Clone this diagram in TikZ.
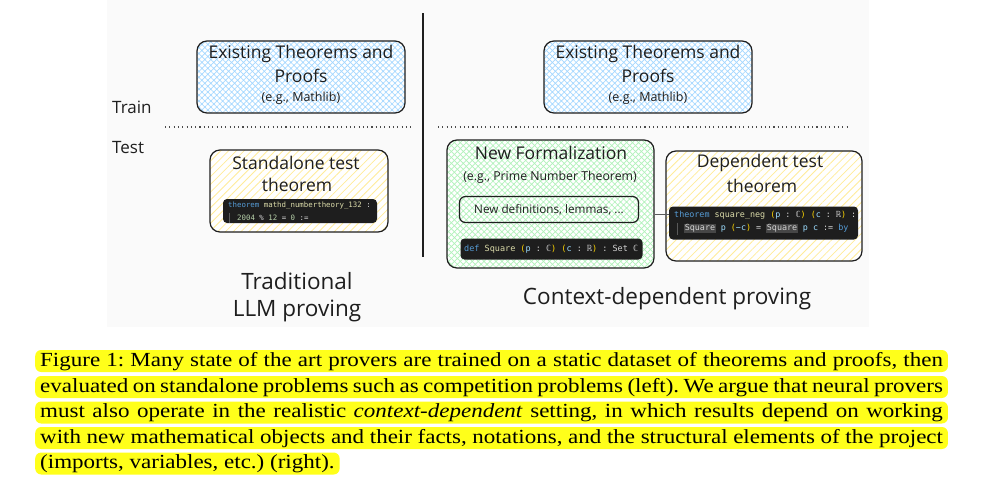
\documentclass[tikz,border=0pt]{standalone}
\usepackage{fontspec}
\setmainfont{Liberation Serif}
\newfontfamily\handfont{Open Sans}
\newfontfamily\codefont{DejaVu Sans Mono}
\usetikzlibrary{patterns.meta}
\definecolor{bggray}{HTML}{FAFAFA}
\definecolor{ink}{HTML}{1E1E1E}
\definecolor{hblue}{HTML}{A5D8FF}
\definecolor{hgreen}{HTML}{B2F2BB}
\definecolor{hyellow}{HTML}{FFEC99}
\definecolor{codebg}{HTML}{1E1E1E}
\definecolor{ckw}{HTML}{569CD6}
\definecolor{cfn}{HTML}{DCDCAA}
\definecolor{cnum}{HTML}{B5CEA8}
\definecolor{cop}{HTML}{D4D4D4}
\definecolor{cpar}{HTML}{FFD700}
\definecolor{cvar}{HTML}{9CDCFE}
\definecolor{sqbg}{HTML}{464646}
\definecolor{guide}{HTML}{5A5A5A}
\definecolor{hl}{HTML}{FFFF1A}
\newcommand\ckw[1]{\textcolor{ckw}{#1}}
\newcommand\cfn[1]{\textcolor{cfn}{#1}}
\newcommand\cnum[1]{\textcolor{cnum}{#1}}
\newcommand\cpar[1]{\textcolor{cpar}{#1}}
\newcommand\cvar[1]{\textcolor{cvar}{#1}}
\newcommand\csq[1]{{\setlength{\fboxsep}{0.6pt}\colorbox{sqbg}{\textcolor{cop}{#1}}}}
\newcommand\capl[1]{\scalebox{1.15}[1]{\makebox[785pt][s]{#1}}}
\newcommand\capn[1]{\scalebox{1.15}[1]{#1}}
\frenchspacing
\tikzset{
  sketchbox/.style={draw=ink, line width=1.2pt, rounded corners=10pt, preaction={fill=white}, inner sep=0pt},
  plainbox/.style={draw=ink, line width=1.2pt, rounded corners=6pt, inner sep=0pt},
  bluehatch/.style={pattern={Hatch[angle=45,distance=4.2pt,line width=0.7pt]}, pattern color=hblue},
  greenhatch/.style={pattern={Hatch[angle=45,distance=4.2pt,line width=0.7pt]}, pattern color=hgreen},
  yellowhatch/.style={pattern={Lines[angle=45,distance=5.5pt,line width=0.8pt]}, pattern color=hyellow},
  codebox/.style={fill=codebg, rounded corners=4pt, inner sep=0pt},
  codetext/.style={font=\codefont\fontsize{8.4}{10}\selectfont, anchor=west, inner sep=0pt, text=cop},
  hand/.style={font=\handfont\fontsize{17.5}{20}\selectfont, inner sep=0pt, text=ink},
  handsmall/.style={font=\handfont\fontsize{12.5}{14}\selectfont, inner sep=0pt, text=ink},
  handside/.style={font=\handfont\fontsize{17}{20}\selectfont, inner sep=0pt, text=ink, anchor=west},
  handbig/.style={font=\handfont\fontsize{22.5}{26}\selectfont, inner sep=0pt, text=ink},
  dotline/.style={draw=ink!80, line width=1.1pt, dash pattern=on 1.1pt off 3.2pt},
  capline/.style={fill=hl, rounded corners=6pt, inner xsep=5pt, inner ysep=0pt, text height=16pt, text depth=6pt, anchor=base west, font=\fontsize{20}{25}\selectfont},
}
\begin{document}
\begin{tikzpicture}[x=1pt,y=-1pt]
\useasboundingbox (0,0) rectangle (999,496);
\fill[white] (0,0) rectangle (999,496);
\fill[bggray] (107,0) rectangle (869,327);

% separator and dotted lines
\coordinate (vtop) at (423,13);
\coordinate (vbot) at (423,257);
\draw[ink, line width=1.5pt] (vtop) -- (vbot);
\coordinate (dl1) at (165,127); \coordinate (dl2) at (413,127);
\coordinate (dr1) at (438,127); \coordinate (dr2) at (848,127);
\draw[dotline] (dl1) -- (dl2);
\draw[dotline] (dr1) -- (dr2);

\node[handside] (train) at (112,107) {Train};
\node[handside] (test) at (112,148) {Test};

% top boxes
\node[sketchbox, bluehatch, minimum width=208pt, minimum height=72pt] (exL) at (301,77) {};
\node[hand] (exLa) at (301,54) {Existing Theorems and};
\node[hand] (exLb) at (301,76) {Proofs};
\node[handsmall] (exLc) at (301,98) {(e.g., Mathlib)};

\node[sketchbox, bluehatch, minimum width=208pt, minimum height=72pt] (exR) at (648,77) {};
\node[hand] (exRa) at (648,54) {Existing Theorems and};
\node[hand] (exRb) at (648,76) {Proofs};
\node[handsmall] (exRc) at (648,98) {(e.g., Mathlib)};

% left test box
\node[sketchbox, yellowhatch, minimum width=178pt, minimum height=82pt] (sa) at (299,191) {};
\node[hand] (saa) at (296,163) {Standalone test};
\node[hand] (sab) at (297,185) {theorem};
\node[codebox, minimum width=154pt, minimum height=24pt] (cL) at (300,211) {};
\node[codetext, font=\codefont\fontsize{7.4}{9}\selectfont] (cL1) at (228,206) {\ckw{theorem} \cfn{mathd\_numbertheory\_132} :};
\node[codetext, font=\codefont\fontsize{7.4}{9}\selectfont] (cL2) at (237,217.5) {\cnum{2004} \% \cnum{12} = \cnum{0} :=};
\draw[guide, line width=0.6pt] (cL2.west) ++(-8,-5) coordinate (gL1) -- ++(0,10) coordinate (gL2);

% new formalization box
\node[sketchbox, greenhatch, minimum width=207pt, minimum height=128pt] (nf) at (550.5,204) {};
\node[hand] (nfa) at (551,153) {New Formalization};
\node[handsmall, font=\handfont\fontsize{12.3}{14}\selectfont] (nfb) at (550,177) {(e.g., Prime Number Theorem)};
\node[plainbox, minimum width=179pt, minimum height=26pt] (nd) at (549,209.5) {};
\node[handsmall, font=\handfont\fontsize{11.7}{13}\selectfont] (ndt) at (549,210) {New definitions, lemmas, ...};
\node[codebox, minimum width=182pt, minimum height=21pt] (cNF) at (551.5,249) {};
\node[codetext, font=\codefont\fontsize{8.5}{10}\selectfont] (cNFt) at (464,249) {\ckw{def} \cfn{Square} \cpar{(}\cvar{p} : ℂ\cpar{)} \cpar{(}\cvar{c} : ℝ\cpar{)} : Set ℂ};

% dependent test box
\node[sketchbox, yellowhatch, minimum width=196pt, minimum height=110pt] (dt) at (764,206) {};
\node[hand] (dta) at (760,163) {Dependent test};
\node[hand] (dtb) at (762,186) {theorem};
\node[codebox, minimum width=189pt, minimum height=33pt] (cDT) at (763.5,223) {};
\node[codetext] (cDT1) at (674,215) {\ckw{theorem} \cfn{square\_neg} \cpar{(}\cvar{p} : ℂ\cpar{)} \cpar{(}\cvar{c} : ℝ\cpar{)} :};
\node[codetext] (cDT2) at (684,228.5) {\csq{Square} \cvar{p} \cpar{(}\cvar{−c}\cpar{)} = \csq{Square} \cvar{p} \cvar{c} := \ckw{by}};
\draw[guide, line width=0.6pt] (cDT2.west) ++(-7,-6) coordinate (gD1) -- ++(0,12) coordinate (gD2);

% connector
\coordinate (cy) at (0,214);
\draw[guide, line width=0.8pt] (nf.east |- cy) -- (cDT.west |- cy);

% bottom labels
\node[handbig] (trad1) at (297,281) {Traditional};
\node[handbig] (trad2) at (297,311) {LLM proving};
\node[handbig] (ctx) at (667,299) {Context-dependent proving};

% caption
\node[capline] (c1) at (35,366) {\capl{Figure 1: Many state of the art provers are trained on a static dataset of theorems and proofs, then}};
\node[capline] (c2) at (35,392) {\capl{evaluated on standalone problems such as competition problems (left). We argue that neural provers}};
\node[capline] (c3) at (35,417.5) {\capl{must also operate in the realistic \textit{context-dependent} setting, in which results depend on working}};
\node[capline] (c4) at (35,443) {\capl{with new mathematical objects and their facts, notations, and the structural elements of the project}};
\node[capline] (c5) at (35,468.5) {\capn{(imports, variables, etc.) (right).}};
\end{tikzpicture}
\end{document}
